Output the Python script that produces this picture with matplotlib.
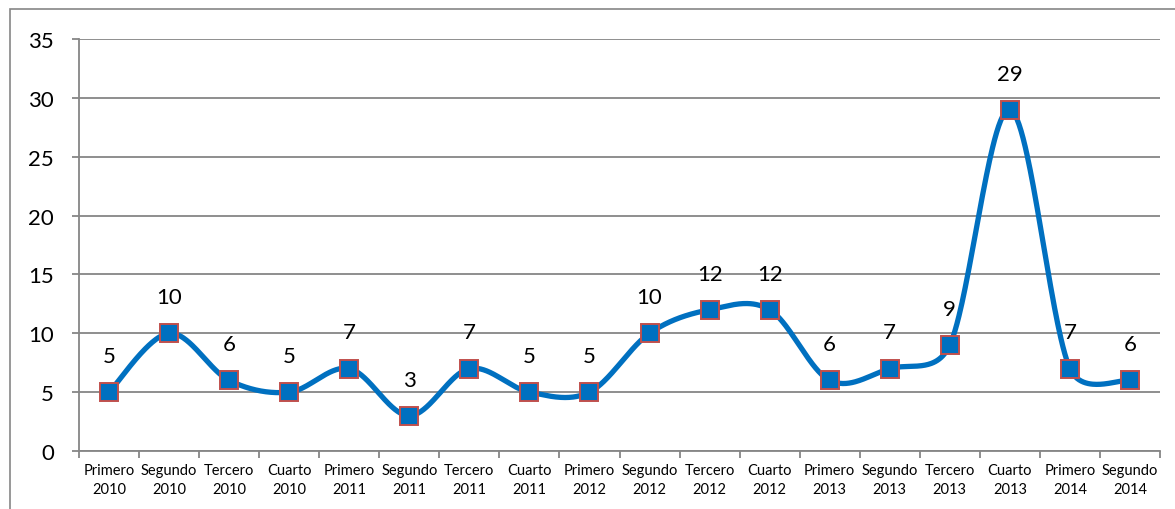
import numpy as np
import matplotlib
matplotlib.use("Agg")
import matplotlib.pyplot as plt
from matplotlib.patches import Rectangle

periods = ["Primero", "Segundo", "Tercero", "Cuarto"] * 4 + ["Primero", "Segundo"]
years = ["2010"] * 4 + ["2011"] * 4 + ["2012"] * 4 + ["2013"] * 4 + ["2014"] * 2
values = [5, 10, 6, 5, 7, 3, 7, 5, 5, 10, 12, 12, 6, 7, 9, 29, 7, 6]

plt.rcParams['font.family'] = ['Lato', 'DejaVu Sans']

LINE = "#0070C0"
EDGE = "#C0504D"
GRID = "#868686"

fig = plt.figure(figsize=(11.75, 5.10), dpi=100)
ax = fig.add_axes([79 / 1175, 58 / 510, (1160 - 79) / 1175, (452 - 40) / 510])
ax.set_xlim(0.5, len(values) + 0.5)
ax.set_ylim(0, 35)


def smooth(ax, x, y, n=60):
    # Bezier smoothing with Catmull-Rom tangents, handles capped at half the
    # segment length (in display space), similar to spreadsheet smoothed lines
    pts = ax.transData.transform(np.column_stack([x, y]).astype(float))
    N = len(pts)
    out = []
    for i in range(N - 1):
        p0 = pts[max(i - 1, 0)]
        p1 = pts[i]
        p2 = pts[i + 1]
        p3 = pts[min(i + 2, N - 1)]
        seg = np.linalg.norm(p2 - p1)
        h1 = (p2 - p0) / 6
        h2 = (p3 - p1) / 6
        cap = 0.5 * seg
        if np.linalg.norm(h1) > cap:
            h1 = h1 / np.linalg.norm(h1) * cap
        if np.linalg.norm(h2) > cap:
            h2 = h2 / np.linalg.norm(h2) * cap
        c1 = p1 + h1
        c2 = p2 - h2
        t = np.linspace(0, 1, n)[:, None]
        b = (1 - t) ** 3 * p1 + 3 * (1 - t) ** 2 * t * c1 + 3 * (1 - t) * t ** 2 * c2 + t ** 3 * p2
        out.append(b)
    out = np.vstack(out)
    data = ax.transData.inverted().transform(out)
    return data[:, 0], data[:, 1]


# outer chart border
fig.patches.append(Rectangle((10 / 1175, -0.1), 1.2, (500 / 510) + 0.1,
                             transform=fig.transFigure, fill=False,
                             edgecolor=GRID, linewidth=1.2, zorder=0))

x = np.arange(1, len(values) + 1)
sx, sy = smooth(ax, x, values)
ax.plot(sx, sy, color=LINE, linewidth=3.8, solid_capstyle='round', zorder=3)
ax.plot(x, values, linestyle='none', marker='s', markersize=13,
        markerfacecolor=LINE, markeredgecolor=EDGE, markeredgewidth=1.4, zorder=4)

for xi, v in zip(x, values):
    ax.annotate(str(v), (xi, v), xytext=(0, 26), textcoords='offset points',
                ha='center', va='center', fontsize=16, color='black', zorder=5)

ax.set_yticks(np.arange(0, 36, 5))
ax.yaxis.grid(True, color=GRID, linewidth=1.3)
ax.set_axisbelow(True)

ax.set_xticks(x)
ax.set_xticklabels([f"{p}\n{yr}" for p, yr in zip(periods, years)], fontsize=10.5, linespacing=1.4)
ax.set_xticks(np.arange(0.5, len(values) + 1, 1), minor=True)
ax.tick_params(axis='x', which='major', length=0, pad=9)
ax.tick_params(axis='x', which='minor', length=5, width=1.3, color=GRID, direction='out')
ax.tick_params(axis='y', length=5, width=1.3, color=GRID, labelsize=16, pad=13)

for s in ['top', 'right']:
    ax.spines[s].set_visible(False)
for s in ['left', 'bottom']:
    ax.spines[s].set_color(GRID)
    ax.spines[s].set_linewidth(1.3)

fig.savefig("out.png", dpi=100)
